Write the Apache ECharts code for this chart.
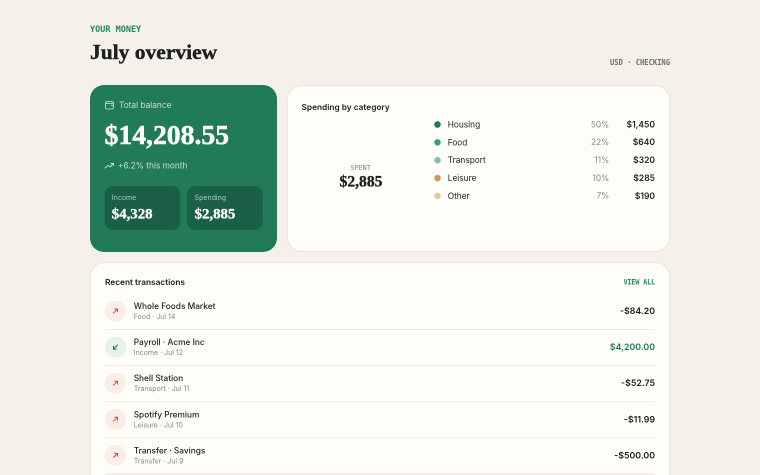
<!DOCTYPE html>
<html>
<head>
<meta charset="utf-8">
<title>July overview</title>
<style>
html, body { margin: 0; padding: 0; background: #f5f1ea; overflow: hidden; }
#main { width: 760px; height: 475px; }
</style>
<script src="https://cdn.jsdelivr.net/npm/echarts@6/dist/echarts.min.js"></script>
</head>
<body>
<div id="main"></div>
<script>
var categories = ['Housing', 'Food', 'Transport', 'Leisure', 'Other'];
var categoryPct = [50, 22, 11, 10, 7];
var categoryAmounts = [1450, 640, 320, 285, 190];
var categoryColors = ['#157a55', '#33a27a', '#79c4a2', '#c9a146', '#dfca98'];

var txNames = ['Whole Foods Market', 'Payroll · Acme Inc', 'Shell Station', 'Spotify Premium', 'Transfer · Savings'];
var txMeta = ['Food · Jul 14', 'Income · Jul 12', 'Transport · Jul 11', 'Leisure · Jul 10', 'Transfer · Jul 9'];
var txAmounts = [-84.20, 4200.00, -52.75, -11.99, -500.00];

var sans = 'Inter';
var serif = '"Liberation Serif"';
var mono = '"DejaVu Sans Mono"';
var green = '#217a58';
var ink = '#1d1f1b';

function money(v, digits) {
	var s = Math.abs(v).toLocaleString('en-US', { minimumFractionDigits: digits, maximumFractionDigits: digits });
	return (v < 0 ? '-$' : '$') + s;
}

function text(str, x, y, size, color, font, weight, align, scaleX) {
	return {
		type: 'text',
		x: x,
		y: y + 0.7,
		scaleX: scaleX || 1,
		style: {
			text: str,
			fontSize: size,
			fontFamily: font || sans,
			fontWeight: weight || 400,
			fill: color,
			align: align || 'left',
			verticalAlign: 'middle'
		}
	};
}

// the display face in the reference is heavier than Liberation Serif Bold
function heavy(str, x, y, size, color, align, outline) {
	var t = text(str, x, y, size, color, serif, 700, align);
	t.style.stroke = color;
	t.style.lineWidth = outline;
	return t;
}

function card(x, y, w, h, r, fill, stroke) {
	return {
		type: 'rect',
		shape: { x: x, y: y, width: w, height: h, r: r },
		style: { fill: fill, stroke: stroke || null, lineWidth: stroke ? 1 : 0 }
	};
}

function polyline(points, color, width) {
	return {
		type: 'polyline',
		shape: { points: points },
		style: { fill: null, stroke: color, lineWidth: width || 1, lineCap: 'round', lineJoin: 'round' }
	};
}

var items = [
	text('YOUR MONEY', 90, 29, 8.5, '#2a8560', mono, 700),
	heavy('July overview', 90, 53, 21.5, ink, 'left', 0.4),
	text('USD · CHECKING', 670, 62, 8, '#6f6f60', mono, 700, 'right', 0.89),

	card(90, 85, 187, 167, 14, green),
	card(287.5, 85.5, 382, 166, 14, '#fffdf8', '#ebe6da'),
	card(90.5, 262.5, 579, 260, 14, '#fffdf8', '#ebe6da'),

	// balance card
	card(105.5, 101.5, 8, 7.5, 1.5, null, '#a9d1bf'),
	polyline([[105.5, 103.5], [113.5, 103.5]], '#a9d1bf'),
	polyline([[111, 105.5], [113.5, 105.5]], '#a9d1bf'),
	text('Total balance', 119, 104.6, 8.3, '#c4e0d3'),
	heavy(money(14208.55, 2), 104.5, 136.3, 27.7, '#fffdf8', 'left', 0.5),
	polyline([[105, 168], [108, 165.5], [110, 167], [113.5, 163.5]], '#c4e0d3'),
	polyline([[111, 163.5], [113.5, 163.5], [113.5, 165.5]], '#c4e0d3'),
	text('+6.2% this month', 118, 165.5, 8.3, '#c4e0d3'),
	card(104.7, 186, 75.5, 44, 8, '#1a5f48'),
	card(187.2, 186, 75.5, 44, 8, '#1a5f48'),
	text('Income', 111.8, 197.3, 7, '#a6d0bd'),
	text('Spending', 194.6, 197.3, 7, '#a6d0bd'),
	heavy(money(4328, 0), 111.8, 214, 14.8, '#fffdf8', 'left', 0.35),
	heavy(money(2885, 0), 194.6, 214, 14.8, '#fffdf8', 'left', 0.35),

	// spending card
	text('Spending by category', 301.5, 106.8, 8.3, ink, sans, 600),
	text('SPENT', 360.6, 167.3, 6.8, '#8c8a7c', mono, 400, 'center'),
	heavy(money(2885, 0), 361, 182, 15.6, ink, 'center', 0.35),

	// transactions
	text('Recent transactions', 105, 281.8, 8.3, ink, sans, 600),
	text('VIEW ALL', 655, 281.8, 7.5, '#2a8560', mono, 700, 'right', 0.87)
];

categories.forEach(function (name, i) {
	var y = 124.5 + i * 17.85;
	items.push(text(categoryPct[i] + '%', 609.3, y - 0.4, 8.3, '#8c8a7c', sans, 400, 'right'));
	items.push(text(money(categoryAmounts[i], 0), 655, y - 0.4, 8.5, ink, sans, 600, 'right'));
});

txNames.forEach(function (name, i) {
	var y = 311 + i * 36.1;
	var isIn = txAmounts[i] > 0;
	var arrow = isIn ? '#217a58' : '#c4563f';
	items.push({
		type: 'circle',
		shape: { cx: 115.5, cy: y, r: 10.5 },
		style: { fill: isIn ? '#e8f1ea' : '#faece6' }
	});
	if (isIn) {
		items.push(polyline([[117.5, y - 2], [113.5, y + 2]], arrow));
		items.push(polyline([[113.5, y - 0.8], [113.5, y + 2], [116.3, y + 2]], arrow));
	} else {
		items.push(polyline([[113.5, y + 2], [117.5, y - 2]], arrow));
		items.push(polyline([[114.7, y - 2], [117.5, y - 2], [117.5, y + 0.8]], arrow));
	}
	items.push(text(name, 133.7, y - 5.2, 8.3, ink, sans, 500));
	items.push(text(txMeta[i], 133.7, y + 5.2, 7, '#8c8a7c'));
	items.push(text(money(txAmounts[i], 2), 655, y - 0.3, 8.8, isIn ? green : ink, sans, 600, 'right'));
	items.push({
		type: 'line',
		shape: { x1: 105, y1: y + 18.5, x2: 655, y2: y + 18.5 },
		style: { stroke: '#eee9de', lineWidth: 1 }
	});
});

// 2x backing store, so the browser softens the text the way the reference looks
var myChart = echarts.init(document.getElementById('main'), null, { devicePixelRatio: 2 });
var option = {
	animation: false,
	backgroundColor: '#f5f1ea',
	grid: { left: 437.5, top: 115.6, width: 217.5, height: 89.2 },
	xAxis: { type: 'value', min: 0, max: 1, show: false },
	yAxis: { type: 'category', data: categories, inverse: true, show: false },
	graphic: { elements: items },
	series: [{
		type: 'scatter',
		symbolSize: 6.5,
		silent: true,
		z: 10,
		itemStyle: { opacity: 1 },
		data: categories.map(function (name, i) {
			return { value: [0, name], name: name, itemStyle: { color: categoryColors[i], opacity: 1 } };
		}),
		label: {
			show: true,
			position: 'right',
			distance: 7,
			offset: [0, 0.4],
			formatter: '{b}',
			fontFamily: sans,
			fontSize: 8.3,
			color: ink
		}
	}]
};
myChart.setOption(option);
</script>
</body>
</html>
